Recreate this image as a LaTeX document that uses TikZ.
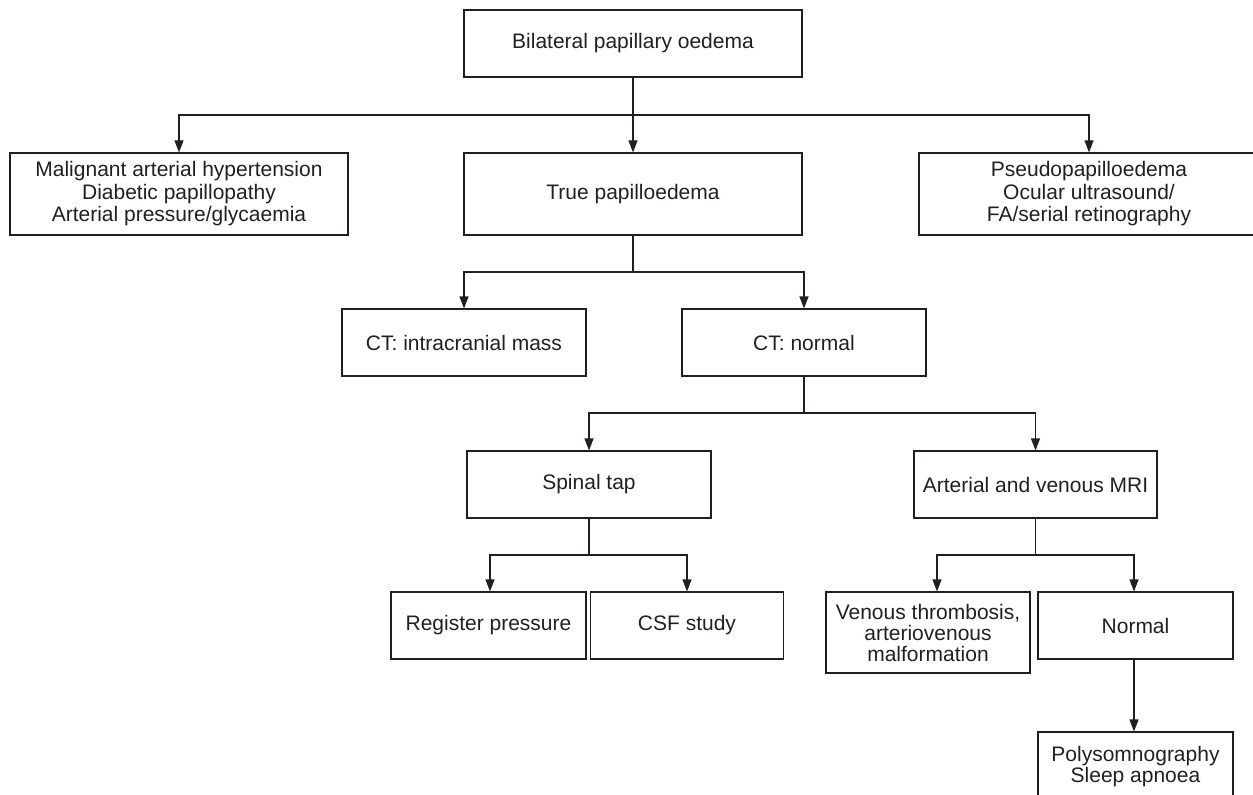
\documentclass[tikz,border=0pt]{standalone}
\usepackage{fontspec}
\setmainfont{Liberation Sans}
\usetikzlibrary{arrows.meta}
\definecolor{ink}{RGB}{35,31,32}
\begin{document}
\begin{tikzpicture}[x=1bp,y=-1bp,
  box/.style={draw=ink, line width=1.1bp, rectangle, inner sep=0pt, align=center, text=ink,
    font=\fontsize{21bp}{22.5bp}\selectfont},
  tight/.style={font=\fontsize{21bp}{21bp}\selectfont},
  ln/.style={draw=ink, line width=1.1bp},
  arr/.style={draw=ink, line width=1.1bp, -{Triangle[length=12bp,width=9bp]}}]
\useasboundingbox (0,0) rectangle (1253,795);
\clip (0,0) rectangle (1253,795);
% level 1
\node[box, minimum width=338bp, minimum height=67bp] (bpo) at (633,43.5) {Bilateral papillary oedema};
% level 2
\node[box, minimum width=338bp, minimum height=82bp] (mal) at (179,194) {Malignant arterial hypertension\\Diabetic papillopathy\\Arterial pressure/glycaemia};
\node[box, minimum width=338bp, minimum height=82bp] (true) at (633,194) {True papilloedema};
\node[box, minimum width=340bp, minimum height=82bp] (pseudo) at (1089,194) {Pseudopapilloedema\\Ocular ultrasound/\\FA/serial retinography};
% level 3
\node[box, minimum width=244bp, minimum height=67bp] (ctm) at (464,342.5) {CT: intracranial mass};
\node[box, minimum width=244bp, minimum height=67bp] (ctn) at (804,342.5) {CT: normal};
% level 4
\node[box, minimum width=244bp, minimum height=67bp] (spinal) at (589,484.5) {Spinal tap};
\node[box, minimum width=243bp, minimum height=67bp] (mri) at (1035.5,484.5) {Arterial and venous MRI};
% level 5
\node[box, minimum width=195bp, minimum height=67bp] (reg) at (488.5,625.5) {Register pressure};
\node[box, minimum width=193bp, minimum height=67bp] (csf) at (687,625.5) {CSF study};
\node[box, tight, minimum width=204bp, minimum height=81bp] (ven) at (928,632.5) {Venous thrombosis,\\arteriovenous\\malformation};
\node[box, minimum width=195bp, minimum height=67bp] (nor) at (1135.5,625.5) {Normal};
% level 6
\node[box, tight, minimum width=195bp, minimum height=70bp] (poly) at (1135.5,767) {Polysomnography\\Sleep apnoea};
% junctions
\coordinate (j1) at (633,115);
\coordinate (j2) at (633,272);
\coordinate (j3) at (804,413);
\coordinate (j4) at (589,555);
\coordinate (j5) at (1035.5,555);
% connectors
\draw[arr] (bpo.south) -- (true.north);
\draw[arr] (j1) -| (mal.north);
\draw[arr] (j1) -| (pseudo.north);
\draw[ln] (true.south) -- (j2);
\draw[arr] (j2) -| (ctm.north);
\draw[arr] (j2) -| (ctn.north);
\draw[ln] (ctn.south) -- (j3);
\draw[arr] (j3) -| (spinal.north);
\draw[arr] (j3) -| (mri.north);
\draw[ln] (spinal.south) -- (j4);
\draw[arr] (j4) -| ([xshift=1.5bp]reg.north);
\draw[arr] (j4) -| (csf.north);
\draw[ln] (mri.south) -- (j5);
\draw[arr] (j5) -| ([xshift=9bp]ven.north);
\draw[arr] (j5) -| ([xshift=-1.5bp]nor.north);
\draw[arr] ([xshift=-1.5bp]nor.south) -- ([xshift=-1.5bp]poly.north);
\end{tikzpicture}
\end{document}
